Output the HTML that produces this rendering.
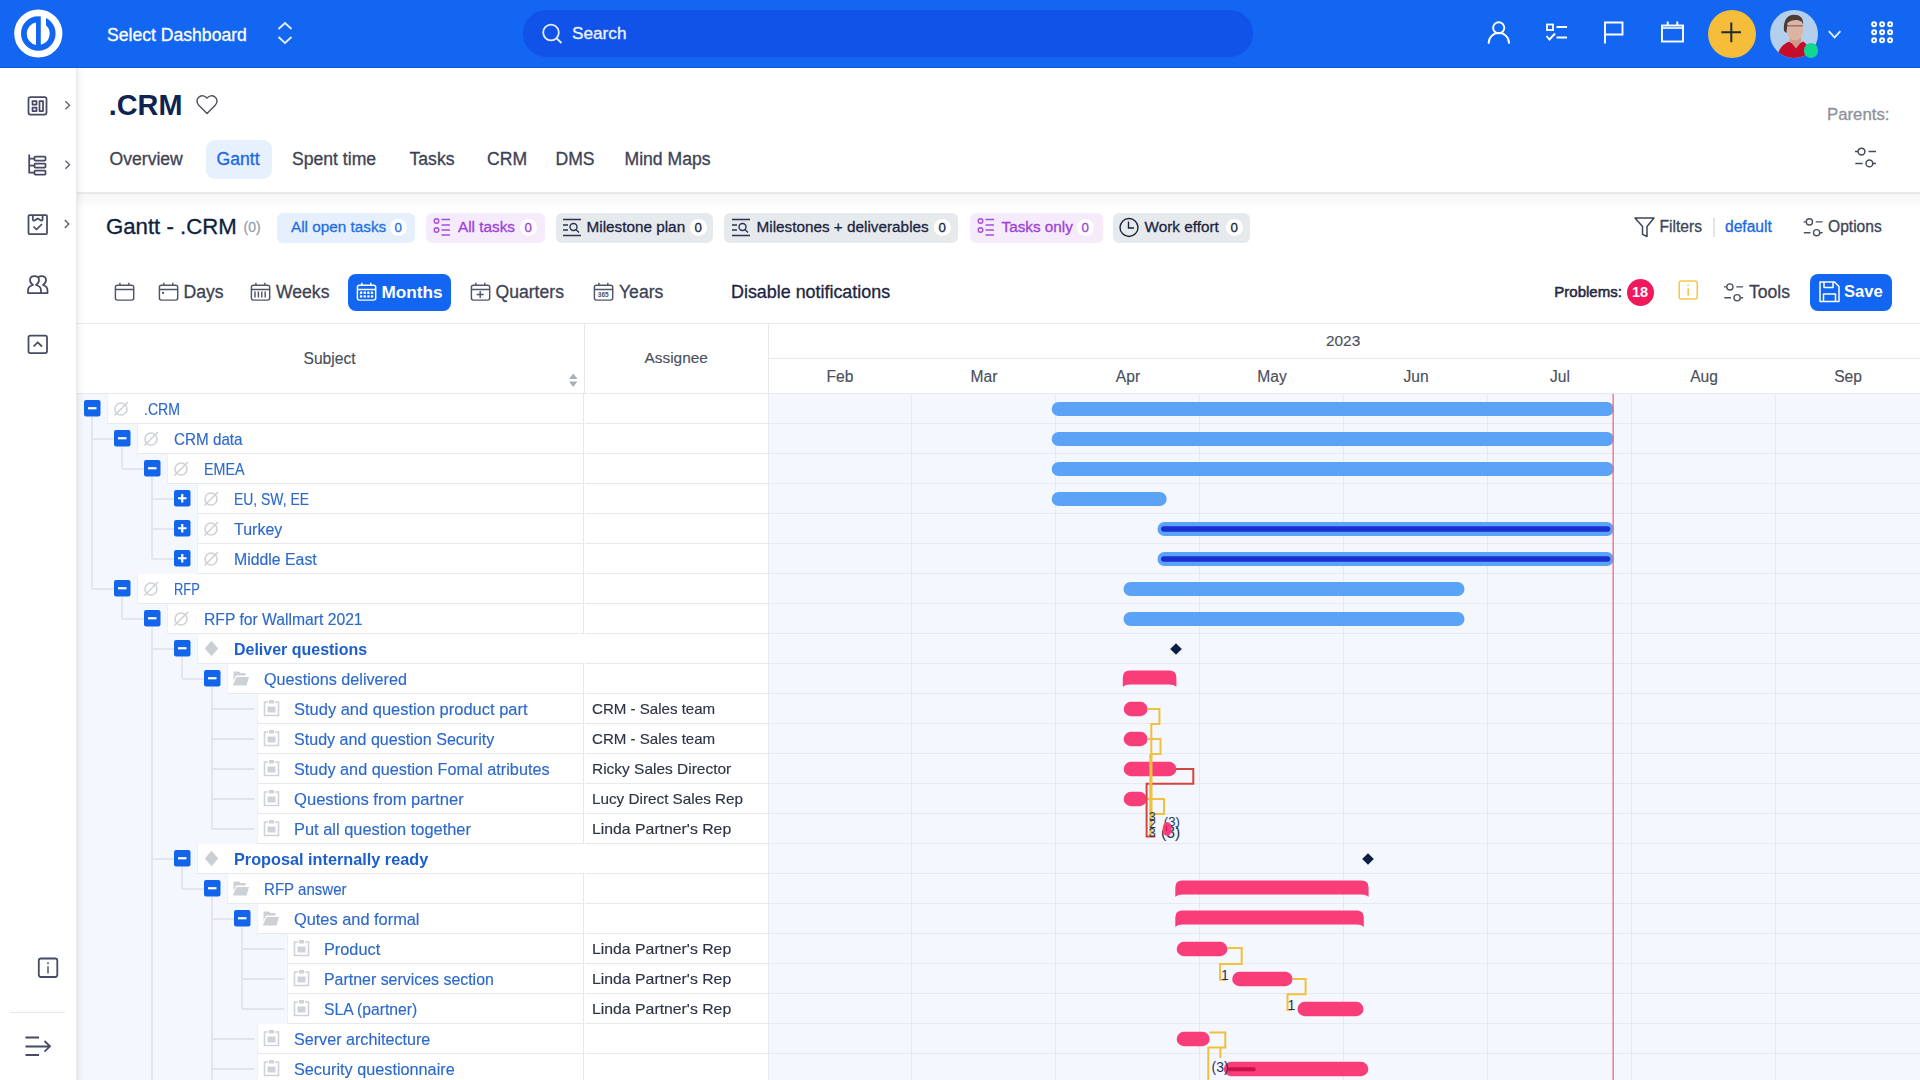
<!DOCTYPE html>
<html><head><meta charset="utf-8"><title>Gantt - .CRM</title><style>
*{box-sizing:border-box;margin:0;padding:0}
html,body{width:1920px;height:1080px;overflow:hidden;background:#fff;font-family:"Liberation Sans",sans-serif;position:relative}
.a{position:absolute}
.t{position:absolute;white-space:nowrap;line-height:1}
.m{-webkit-text-stroke:0.3px currentColor}
.n{-webkit-text-stroke:0.15px currentColor}
svg{position:absolute;overflow:visible}
</style></head><body>
<div class="a" style="left:0;top:0;width:1920px;height:68px;background:#1266f1;border-bottom:1px solid #0f58dc"></div>
<svg style="left:0;top:0" width="80" height="68" viewBox="0 0 80 68">
<circle cx="38.3" cy="33.5" r="20.7" fill="none" stroke="#fff" stroke-width="6.8"/>
<path d="M36,22.5 A11.4,11.4 0 0 0 36,44.9 Z" fill="#fff"/>
<path d="M40.8,16 L46,16.8 L46,25.3 A11.4,11.4 0 0 1 40.8,44.8 Z" fill="#fff"/>
</svg>
<div class="t m" style="left:107px;top:26.5px;font-size:17.6px;color:#fff">Select Dashboard</div>
<svg style="left:276px;top:21px" width="18" height="24" viewBox="0 0 18 24">
<path d="M2.5,8 L9,2 L15.5,8 M2.5,16 L9,22 L15.5,16" fill="none" stroke="#e8f0ff" stroke-width="1.8"/></svg>
<div class="a" style="left:523px;top:10px;width:730px;height:47px;border-radius:24px;background:#1152e9"></div>
<svg style="left:541px;top:22px" width="24" height="24" viewBox="0 0 24 24">
<circle cx="10" cy="10.5" r="7.8" fill="none" stroke="#e6efff" stroke-width="1.8"/><path d="M15.8,16.5 L20.5,21" stroke="#e6efff" stroke-width="1.8"/></svg>
<div class="t m" style="left:572px;top:25px;font-size:17.2px;color:#eef4ff">Search</div>
<svg style="left:1480px;top:15px" width="40" height="40" viewBox="1480 15 40 40">
<circle cx="1498.7" cy="27.8" r="5.6" fill="none" stroke="#fff" stroke-width="1.9"/>
<path d="M1488.7,43 A10,10 0 0 1 1509,43" fill="none" stroke="#fff" stroke-width="1.9" stroke-linecap="round"/></svg>
<svg style="left:1540px;top:15px" width="40" height="40" viewBox="1540 15 40 40">
<rect x="1547" y="24.5" width="6" height="5.5" fill="none" stroke="#fff" stroke-width="1.8"/>
<path d="M1556.5,27 H1567 M1556.5,37.5 H1567" stroke="#fff" stroke-width="1.9"/>
<path d="M1546.5,36 L1549.5,39.5 L1555,33.5" fill="none" stroke="#fff" stroke-width="1.9"/></svg>
<svg style="left:1595px;top:15px" width="40" height="40" viewBox="1595 15 40 40">
<path d="M1605,43.5 V22.5 H1622.5 V34.5 H1605" fill="none" stroke="#fff" stroke-width="1.9"/></svg>
<svg style="left:1655px;top:15px" width="40" height="40" viewBox="1655 15 40 40">
<rect x="1662" y="25.5" width="21" height="16" fill="none" stroke="#fff" stroke-width="1.9"/>
<path d="M1662,28 H1683" stroke="#fff" stroke-width="1.6"/>
<path d="M1667.7,21.5 V25.5 M1677.3,21.5 V25.5" stroke="#fff" stroke-width="1.9"/></svg>
<div class="a" style="left:1707.7px;top:9.5px;width:48px;height:48px;border-radius:50%;background:#f5bd3a"></div>
<svg style="left:1715px;top:17px" width="34" height="34" viewBox="1715 17 34 34">
<path d="M1731.3,22.5 V42.2 M1721.3,32.3 H1741" stroke="#1f2b37" stroke-width="2"/></svg>
<svg style="left:1770px;top:9.5px" width="48" height="48" viewBox="0 0 48 48">
<defs><clipPath id="av"><circle cx="24" cy="24" r="24"/></clipPath><filter id="bl" x="-10%" y="-10%" width="120%" height="120%"><feGaussianBlur stdDeviation="0.7"/></filter></defs>
<g clip-path="url(#av)">
<rect width="48" height="48" fill="#b4cfec"/>
<g filter="url(#bl)">
<path d="M7,48 C8.5,38 13.5,33.5 20,31.5 L26,35.5 L33,31.5 C36.5,33 39,37 40.5,48 Z" fill="#c4112b"/>
<path d="M20.5,31.5 L26,38.5 L31.5,31.5 Z" fill="#d4968a"/>
<rect x="20" y="25" width="11" height="8" fill="#cf9a8a"/>
<ellipse cx="25" cy="19.5" rx="8.3" ry="10.8" fill="#ddb3a3"/>
<path d="M14,21 C13,10 17.5,4.8 24,4.8 C30,4.8 33.5,8 33.2,14.5 L31.5,11.5 C28,9 21,9.5 17.5,13 L16.5,23 Z" fill="#4b3a33"/>
<path d="M16.8,15.8 H33" stroke="#6a5652" stroke-width="1.3" opacity="0.75"/>
</g></g></svg>
<div class="a" style="left:1803.5px;top:43px;width:14.5px;height:14.5px;border-radius:50%;background:#10d88f"></div>
<svg style="left:1825px;top:25px" width="20" height="20" viewBox="1825 25 20 20">
<path d="M1828.8,31.2 L1834.6,37.4 L1840.4,31.2" fill="none" stroke="#e8f0ff" stroke-width="1.8"/></svg>
<svg style="left:1860px;top:15px" width="40" height="40" viewBox="1860 15 40 40"><circle cx="1874.1" cy="24.3" r="2.0" fill="none" stroke="#fff" stroke-width="1.9"/><circle cx="1882.1" cy="24.3" r="2.0" fill="none" stroke="#fff" stroke-width="1.9"/><circle cx="1890.1" cy="24.3" r="2.0" fill="none" stroke="#fff" stroke-width="1.9"/><circle cx="1874.1" cy="32.3" r="2.0" fill="none" stroke="#fff" stroke-width="1.9"/><circle cx="1882.1" cy="32.3" r="2.0" fill="none" stroke="#fff" stroke-width="1.9"/><circle cx="1890.1" cy="32.3" r="2.0" fill="none" stroke="#fff" stroke-width="1.9"/><circle cx="1874.1" cy="40.3" r="2.0" fill="none" stroke="#fff" stroke-width="1.9"/><circle cx="1882.1" cy="40.3" r="2.0" fill="none" stroke="#fff" stroke-width="1.9"/><circle cx="1890.1" cy="40.3" r="2.0" fill="none" stroke="#fff" stroke-width="1.9"/></svg>
<div class="a" style="left:0;top:68px;width:76px;height:1012px;background:#fff"></div>
<svg style="left:0;top:68px" width="77" height="1012" viewBox="0 68 77 1012">
<g fill="none" stroke="#454b62" stroke-width="1.75" stroke-linejoin="round">
<rect x="28.5" y="97" width="18" height="17.5" rx="2"/>
<rect x="32.5" y="101" width="4" height="3.5"/><rect x="32.5" y="107.5" width="4" height="3.5"/><rect x="39.5" y="101" width="3.5" height="10"/>
<path d="M29.2,154.5 V173.5 M29.2,158.5 H34 M29.2,165.5 H34 M29.2,172.5 H34"/>
<rect x="34.5" y="156.5" width="11" height="4" rx="0.8"/><rect x="34.5" y="163.5" width="11" height="4" rx="0.8"/><rect x="34.5" y="170.5" width="11" height="4" rx="0.8"/>
<rect x="28.5" y="215" width="18.5" height="19" rx="1"/>
<path d="M32.8,215 V219.5 Q33,221 34.5,220.5 L37.7,218.5 L41,220.5 Q42.5,221 42.6,219.5 V215"/>
<path d="M33.5,226.5 L36.5,229.5 L42,224"/>
<path d="M28,293 V290.5 C28,287 31,285.5 33,285 C30.5,283.5 30,281.5 30,280 C30,277.5 32,276 34.5,276 C37,276 39,277.5 39,280 C39,281.5 38.5,283.5 36,285 C38,285.5 41,287 41,290.5 V293 Z"/>
<path d="M38.5,277 C39.5,276.3 40.5,276 41.5,276 C44,276 46,277.5 46,280 C46,281.5 45.5,283.5 43,285 C45,285.5 47.5,287 47.5,290.5 V293 H41"/>
<rect x="28.5" y="335.5" width="18.5" height="17.5" rx="1.8"/>
<path d="M33.5,346.5 L37.7,342.3 L42,346.5"/>
</g>
<g fill="none" stroke="#5b6075" stroke-width="1.4">
<path d="M65.5,101.2 L69.5,105.2 L65.5,109.2 M65.5,160.8 L69.5,164.8 L65.5,168.8 M64.8,220 L68.8,224 L64.8,228"/>
</g>
<g fill="none" stroke="#454b62" stroke-width="1.8">
<rect x="38.8" y="958.5" width="18.5" height="18.5" rx="2.2"/>
<path d="M48,962.3 V964.2 M48,966.2 V973.6" stroke="#5f6577" stroke-width="1.6"/>
<path d="M25.5,1037.5 H39 M25.5,1055 H39 M25.5,1046.5 H49.5 M44.5,1041 L50,1046.3 L44.5,1051.6"/>
</g>
<path d="M10,1012.5 H65" stroke="#e7e9ec" stroke-width="1"/>
</svg>
<div class="a" style="left:77px;top:68px;width:1843px;height:124px;background:#fff"></div>
<div class="a" style="left:77px;top:192px;width:1843px;height:2px;background:#e9eaec"></div>
<div class="a" style="left:77px;top:194px;width:1843px;height:16px;background:linear-gradient(#f6f6f7,#fff)"></div>
<div class="t" style="left:108.8px;top:91px;font-size:28.8px;font-weight:700;color:#0e2350">.CRM</div>
<svg style="left:193px;top:90px" width="30" height="30" viewBox="193 90 30 30">
<path d="M207,113.5 L198.8,105.3 C196.2,102.7 196.4,98.8 199.2,96.8 C201.7,95 205.2,95.6 207,98.2 C208.8,95.6 212.3,95 214.8,96.8 C217.6,98.8 217.8,102.7 215.2,105.3 Z" fill="none" stroke="#4f5460" stroke-width="1.45" stroke-linejoin="round"/></svg>
<div class="t m" style="left:1827px;top:107px;font-size:16.8px;color:#8c929c">Parents:</div>
<svg style="left:0;top:0" width="1920" height="400" viewBox="0 0 1920 400"><g fill="none" stroke="#454b58" stroke-width="1.5"><circle cx="1861.49" cy="151.54" r="3.41"/><circle cx="1869.4" cy="163.41" r="3.41"/><path d="M1855.0,151.54 H1858.08 M1868.52,151.54 H1876.0 M1855.33,163.41 H1862.7 M1872.81,163.41 H1876.0"/></g></svg>
<div class="a" style="left:205.5px;top:140px;width:66px;height:39px;border-radius:9px;background:#e7f0fd"></div>
<div class="t m" style="left:109.5px;top:151px;font-size:17.6px;color:#3d4253">Overview</div>
<div class="t m" style="left:216.5px;top:151px;font-size:17.6px;color:#1a67e6">Gantt</div>
<div class="t m" style="left:292px;top:151px;font-size:17.6px;color:#3d4253">Spent time</div>
<div class="t m" style="left:409.5px;top:151px;font-size:17.6px;color:#3d4253">Tasks</div>
<div class="t m" style="left:487px;top:151px;font-size:17.6px;color:#3d4253">CRM</div>
<div class="t m" style="left:555.5px;top:151px;font-size:17.6px;color:#3d4253">DMS</div>
<div class="t m" style="left:624.5px;top:151px;font-size:17.6px;color:#3d4253">Mind Maps</div>
<div class="t m" style="left:106px;top:216px;font-size:22.2px;color:#0e1e3d">Gantt - .CRM</div>
<div class="t m" style="left:243.5px;top:220px;font-size:14px;color:#999ea8">(0)</div>
<div class="a" style="left:277px;top:213px;width:138px;height:29.5px;border-radius:6px;background:#e6f0fc"></div>
<div class="t m" style="left:291px;top:218.9px;font-size:15.3px;color:#1f6fe0">All open tasks</div>
<div class="a" style="left:390px;top:219px;width:17px;height:17px;border-radius:50%;background:#fff"></div>
<div class="t m" style="left:394.6px;top:221.3px;font-size:13.3px;color:#1f6fe0">0</div>
<div class="a" style="left:425.5px;top:213px;width:119.5px;height:29.5px;border-radius:6px;background:#f5ebfb"></div>
<svg style="left:433px;top:215px" width="22" height="24" viewBox="0 0 22 24">
<g fill="none" stroke="#a64ddc" stroke-width="1.4"><circle cx="3.5" cy="6" r="2.3"/><circle cx="3.5" cy="15" r="2.3"/>
<path d="M8.5,4.5 H17 M8.5,10 H17 M8.5,15 H17 M8.5,20 H17"/></g></svg>
<div class="t m" style="left:458px;top:218.9px;font-size:15.3px;color:#9d3fd8">All tasks</div>
<div class="a" style="left:520px;top:219px;width:17px;height:17px;border-radius:50%;background:#fff"></div>
<div class="t m" style="left:524.6px;top:221.3px;font-size:13.3px;color:#9d3fd8">0</div>
<div class="a" style="left:556px;top:213px;width:157px;height:29.5px;border-radius:6px;background:#e7eaed"></div>
<svg style="left:561.5px;top:215px" width="22" height="24" viewBox="0 0 22 24">
<g fill="none" stroke="#2a3350" stroke-width="1.4"><path d="M1,4.5 H19 M1,10 H6 M1,15 H6 M1,20.5 H19"/><circle cx="11.5" cy="12" r="3.5"/><path d="M14,14.5 L17,17.5"/></g></svg>
<div class="t m" style="left:586.5px;top:218.9px;font-size:15.3px;color:#1b2540">Milestone plan</div>
<div class="a" style="left:690px;top:219px;width:17px;height:17px;border-radius:50%;background:#fff"></div>
<div class="t m" style="left:694.6px;top:221.3px;font-size:13.3px;color:#1b2540">0</div>
<div class="a" style="left:724px;top:213px;width:234px;height:29.5px;border-radius:6px;background:#e7eaed"></div>
<svg style="left:731px;top:215px" width="22" height="24" viewBox="0 0 22 24">
<g fill="none" stroke="#2a3350" stroke-width="1.4"><path d="M1,4.5 H19 M1,10 H6 M1,15 H6 M1,20.5 H19"/><circle cx="11.5" cy="12" r="3.5"/><path d="M14,14.5 L17,17.5"/></g></svg>
<div class="t m" style="left:756.5px;top:218.9px;font-size:15.3px;color:#1b2540">Milestones + deliverables</div>
<div class="a" style="left:934px;top:219px;width:17px;height:17px;border-radius:50%;background:#fff"></div>
<div class="t m" style="left:938.6px;top:221.3px;font-size:13.3px;color:#1b2540">0</div>
<div class="a" style="left:969.5px;top:213px;width:133.0px;height:29.5px;border-radius:6px;background:#f5ebfb"></div>
<svg style="left:976.5px;top:215px" width="22" height="24" viewBox="0 0 22 24">
<g fill="none" stroke="#a64ddc" stroke-width="1.4"><circle cx="3.5" cy="6" r="2.3"/><circle cx="3.5" cy="15" r="2.3"/>
<path d="M8.5,4.5 H17 M8.5,10 H17 M8.5,15 H17 M8.5,20 H17"/></g></svg>
<div class="t m" style="left:1001.5px;top:218.9px;font-size:15.3px;color:#9d3fd8">Tasks only</div>
<div class="a" style="left:1077px;top:219px;width:17px;height:17px;border-radius:50%;background:#fff"></div>
<div class="t m" style="left:1081.6px;top:221.3px;font-size:13.3px;color:#9d3fd8">0</div>
<div class="a" style="left:1113px;top:213px;width:137px;height:29.5px;border-radius:6px;background:#e7eaed"></div>
<svg style="left:1118px;top:217px" width="22" height="22" viewBox="0 0 22 22">
<g fill="none" stroke="#1b2540" stroke-width="1.4"><circle cx="11" cy="10.5" r="9"/><path d="M10.5,4.5 V11 H16"/></g></svg>
<div class="t m" style="left:1144.5px;top:218.9px;font-size:15.3px;color:#1b2540">Work effort</div>
<div class="a" style="left:1226px;top:219px;width:17px;height:17px;border-radius:50%;background:#fff"></div>
<div class="t m" style="left:1230.6px;top:221.3px;font-size:13.3px;color:#1b2540">0</div>
<svg style="left:1630px;top:213px" width="30" height="30" viewBox="1630 213 30 30">
<path d="M1635,218 H1654 L1647,226.5 V236.5 L1642.5,234.3 V226.5 Z" fill="none" stroke="#3e4457" stroke-width="1.5" stroke-linejoin="round"/></svg>
<div class="t m" style="left:1659.5px;top:219px;font-size:15.6px;color:#3e4457">Filters</div>
<div class="a" style="left:1713px;top:218px;width:1.5px;height:19px;background:#e2e4e8"></div>
<div class="t m" style="left:1725px;top:219px;font-size:15.6px;color:#1a67e6">default</div>
<svg style="left:0;top:0" width="1920" height="400" viewBox="0 0 1920 400"><g fill="none" stroke="#4b515e" stroke-width="1.35"><circle cx="1809.4" cy="221.9" r="3.1"/><circle cx="1816.6" cy="232.7" r="3.1"/><path d="M1803.5,221.9 H1806.3 M1815.8,221.9 H1822.6 M1803.8,232.7 H1810.5 M1819.7,232.7 H1822.6"/></g></svg>
<div class="t m" style="left:1828px;top:219px;font-size:15.6px;color:#3e4457">Options</div>
<svg style="left:114px;top:281px" width="22" height="22" viewBox="0 0 22 22">
<g fill="none" stroke="#50566a" stroke-width="1.45"><rect x="1.4" y="4.3" width="18.3" height="14.8" rx="2"/><path d="M1.4,8.4 H19.7 M5.9,1.8 V4.5 M14.8,1.8 V4.5"/></g></svg>
<svg style="left:158px;top:281px" width="22" height="22" viewBox="0 0 22 22">
<g fill="none" stroke="#50566a" stroke-width="1.45"><rect x="1.4" y="4.3" width="18.3" height="14.8" rx="2"/><path d="M1.4,8.4 H19.7 M5.9,1.8 V4.5 M14.8,1.8 V4.5"/><circle cx="5.1" cy="11.9" r="1.1" fill="#4a5063" stroke="none"/></g></svg>
<div class="t m" style="left:183.5px;top:283.6px;font-size:17.6px;color:#3d4253">Days</div>
<svg style="left:250px;top:281px" width="22" height="22" viewBox="0 0 22 22">
<g fill="none" stroke="#50566a" stroke-width="1.45"><rect x="1.4" y="4.3" width="18.3" height="14.8" rx="2"/><path d="M1.4,8.4 H19.7 M5.9,1.8 V4.5 M14.8,1.8 V4.5"/><path d="M5,10.5 V16.5 M8.4,10.5 V16.5 M11.8,10.5 V16.5 M15.2,10.5 V16.5"/></g></svg>
<div class="t m" style="left:276px;top:283.6px;font-size:17.6px;color:#3d4253">Weeks</div>
<div class="a" style="left:348px;top:274px;width:103px;height:36.5px;border-radius:8px;background:#1266f1"></div>
<svg style="left:356px;top:281px" width="22" height="22" viewBox="0 0 22 22">
<g fill="none" stroke="#fff" stroke-width="1.45"><rect x="1.4" y="4.3" width="18.3" height="14.8" rx="2"/><path d="M1.4,8.4 H19.7 M5.9,1.8 V4.5 M14.8,1.8 V4.5"/></g>
<g fill="#fff"><rect x="3.9" y="10.6" width="2.4" height="2.3" rx="0.4"/><rect x="7.55" y="10.6" width="2.4" height="2.3" rx="0.4"/><rect x="11.2" y="10.6" width="2.4" height="2.3" rx="0.4"/><rect x="14.85" y="10.6" width="2.4" height="2.3" rx="0.4"/><rect x="3.9" y="14.3" width="2.4" height="2.3" rx="0.4"/><rect x="7.55" y="14.3" width="2.4" height="2.3" rx="0.4"/><rect x="11.2" y="14.3" width="2.4" height="2.3" rx="0.4"/><rect x="14.85" y="14.3" width="2.4" height="2.3" rx="0.4"/></g></svg>
<div class="t" style="left:381.5px;top:284px;font-size:17.2px;font-weight:700;color:#fff">Months</div>
<svg style="left:469.5px;top:281px" width="22" height="22" viewBox="0 0 22 22">
<g fill="none" stroke="#50566a" stroke-width="1.45"><rect x="1.4" y="4.3" width="18.3" height="14.8" rx="2"/><path d="M1.4,8.4 H19.7 M5.9,1.8 V4.5 M14.8,1.8 V4.5"/><path d="M10.2,10 V17 M6.7,13.5 H13.7"/></g></svg>
<div class="t m" style="left:495.5px;top:283.6px;font-size:17.6px;color:#3d4253">Quarters</div>
<svg style="left:593px;top:281px" width="22" height="22" viewBox="0 0 22 22">
<g fill="none" stroke="#50566a" stroke-width="1.45"><rect x="1.4" y="4.3" width="18.3" height="14.8" rx="2"/><path d="M1.4,8.4 H19.7 M5.9,1.8 V4.5 M14.8,1.8 V4.5"/><text x="10.2" y="16.3" font-size="6.5" font-weight="700" text-anchor="middle" fill="#4a5063" stroke="none" font-family="Liberation Sans">365</text></g></svg>
<div class="t m" style="left:619px;top:283.6px;font-size:17.6px;color:#3d4253">Years</div>
<div class="t m" style="left:731px;top:284px;font-size:17.9px;color:#1b2540">Disable notifications</div>
<div class="t" style="left:1554.3px;top:284px;font-size:15px;color:#1f2b48;-webkit-text-stroke:0.55px #1f2b48">Problems:</div>
<div class="a" style="left:1627px;top:279px;width:27px;height:27px;border-radius:50%;background:#f0195c"></div>
<div class="t" style="left:1632px;top:285px;font-size:14.5px;font-weight:700;color:#fff">18</div>
<svg style="left:1676px;top:278px" width="24" height="24" viewBox="1676 278 24 24">
<rect x="1679.2" y="281" width="18" height="18" rx="2" fill="none" stroke="#f3c94a" stroke-width="1.5"/>
<path d="M1688.2,284.5 V286 M1688.2,288.3 V295.5" stroke="#f3c94a" stroke-width="1.6"/></svg>
<svg style="left:0;top:0" width="1920" height="400" viewBox="0 0 1920 400"><g fill="none" stroke="#4b515e" stroke-width="1.35"><circle cx="1729.9" cy="286.9" r="3.1"/><circle cx="1737.1" cy="297.7" r="3.1"/><path d="M1724.0,286.9 H1726.8 M1736.3,286.9 H1743.1 M1724.3,297.7 H1731.0 M1740.2,297.7 H1743.1"/></g></svg>
<div class="t m" style="left:1749px;top:284px;font-size:17.6px;color:#3d4253">Tools</div>
<div class="a" style="left:1810px;top:274px;width:82px;height:36.5px;border-radius:8px;background:#1266f1"></div>
<svg style="left:1816px;top:280px" width="26" height="26" viewBox="1816 280 26 26">
<g fill="none" stroke="#fff" stroke-width="1.5" stroke-linejoin="round"><path d="M1820,282 H1834.5 L1839,286.5 V301.5 H1820 Z"/><path d="M1824,282 V287.5 H1833 V282"/><path d="M1823.5,301.5 V294 H1835.5 V301.5"/></g></svg>
<div class="t" style="left:1844px;top:284px;font-size:16.6px;font-weight:700;color:#fff">Save</div>
<div class="a" style="left:77px;top:323px;width:1843px;height:1px;background:#e8ebef"></div>
<div class="a" style="left:583.5px;top:323px;width:1px;height:71px;background:#e6e9ee"></div>
<div class="a" style="left:768px;top:323px;width:1px;height:757px;background:#e6e9ee"></div>
<div class="a" style="left:768px;top:358px;width:1152px;height:1px;background:#e6e9ee"></div>
<div class="t n" style="left:303.5px;top:350.8px;font-size:15.6px;color:#4a4f5c">Subject</div>
<div class="t n" style="left:644.5px;top:349.6px;font-size:15.4px;color:#4a4f5c">Assignee</div>
<svg style="left:565px;top:370px" width="16" height="20" viewBox="565 370 16 20">
<path d="M569,379 L573.2,373.5 L577.4,379 Z M569,381.5 L573.2,387 L577.4,381.5 Z" fill="#a7b0b6"/></svg>
<div class="t n" style="left:1326px;top:333px;font-size:15.4px;color:#4a4f5c">2023</div>
<div class="t n" style="left:800px;width:80px;text-align:center;top:369px;font-size:15.6px;color:#4a4f5c">Feb</div>
<div class="t n" style="left:944px;width:80px;text-align:center;top:369px;font-size:15.6px;color:#4a4f5c">Mar</div>
<div class="t n" style="left:1088px;width:80px;text-align:center;top:369px;font-size:15.6px;color:#4a4f5c">Apr</div>
<div class="t n" style="left:1232px;width:80px;text-align:center;top:369px;font-size:15.6px;color:#4a4f5c">May</div>
<div class="t n" style="left:1376px;width:80px;text-align:center;top:369px;font-size:15.6px;color:#4a4f5c">Jun</div>
<div class="t n" style="left:1520px;width:80px;text-align:center;top:369px;font-size:15.6px;color:#4a4f5c">Jul</div>
<div class="t n" style="left:1664px;width:80px;text-align:center;top:369px;font-size:15.6px;color:#4a4f5c">Aug</div>
<div class="t n" style="left:1808px;width:80px;text-align:center;top:369px;font-size:15.6px;color:#4a4f5c">Sep</div>
<div class="a" style="left:77px;top:394px;width:506.5px;height:686px;background:#f4f7fd"></div>
<div class="a" style="left:769px;top:394px;width:1151px;height:686px;background:#f4f7fd"></div>
<div class="a" style="left:584.5px;top:394px;width:183.5px;height:686px;background:#fff"></div>
<div class="a" style="left:77px;top:393px;width:1843px;height:1.2px;background:#e5e8ed"></div>
<div class="a" style="left:911.0px;top:394px;width:1px;height:686px;background:#e5e9f0"></div>
<div class="a" style="left:1055.0px;top:394px;width:1px;height:686px;background:#e5e9f0"></div>
<div class="a" style="left:1199.0px;top:394px;width:1px;height:686px;background:#e5e9f0"></div>
<div class="a" style="left:1343.0px;top:394px;width:1px;height:686px;background:#e5e9f0"></div>
<div class="a" style="left:1487.0px;top:394px;width:1px;height:686px;background:#e5e9f0"></div>
<div class="a" style="left:1631.0px;top:394px;width:1px;height:686px;background:#e5e9f0"></div>
<div class="a" style="left:1775.0px;top:394px;width:1px;height:686px;background:#e5e9f0"></div>
<div class="a" style="left:769px;top:423.2px;width:1151px;height:1px;background:#e6eaf0"></div>
<div class="a" style="left:584.5px;top:423px;width:183.5px;height:1px;background:#e6e9ee"></div>
<div class="a" style="left:769px;top:453.2px;width:1151px;height:1px;background:#e6eaf0"></div>
<div class="a" style="left:584.5px;top:453px;width:183.5px;height:1px;background:#e6e9ee"></div>
<div class="a" style="left:769px;top:483.2px;width:1151px;height:1px;background:#e6eaf0"></div>
<div class="a" style="left:584.5px;top:483px;width:183.5px;height:1px;background:#e6e9ee"></div>
<div class="a" style="left:769px;top:513.2px;width:1151px;height:1px;background:#e6eaf0"></div>
<div class="a" style="left:584.5px;top:513px;width:183.5px;height:1px;background:#e6e9ee"></div>
<div class="a" style="left:769px;top:543.2px;width:1151px;height:1px;background:#e6eaf0"></div>
<div class="a" style="left:584.5px;top:543px;width:183.5px;height:1px;background:#e6e9ee"></div>
<div class="a" style="left:769px;top:573.2px;width:1151px;height:1px;background:#e6eaf0"></div>
<div class="a" style="left:584.5px;top:573px;width:183.5px;height:1px;background:#e6e9ee"></div>
<div class="a" style="left:769px;top:603.2px;width:1151px;height:1px;background:#e6eaf0"></div>
<div class="a" style="left:584.5px;top:603px;width:183.5px;height:1px;background:#e6e9ee"></div>
<div class="a" style="left:769px;top:633.2px;width:1151px;height:1px;background:#e6eaf0"></div>
<div class="a" style="left:584.5px;top:633px;width:183.5px;height:1px;background:#e6e9ee"></div>
<div class="a" style="left:769px;top:663.2px;width:1151px;height:1px;background:#e6eaf0"></div>
<div class="a" style="left:584.5px;top:663px;width:183.5px;height:1px;background:#e6e9ee"></div>
<div class="a" style="left:769px;top:693.2px;width:1151px;height:1px;background:#e6eaf0"></div>
<div class="a" style="left:584.5px;top:693px;width:183.5px;height:1px;background:#e6e9ee"></div>
<div class="a" style="left:769px;top:723.2px;width:1151px;height:1px;background:#e6eaf0"></div>
<div class="a" style="left:584.5px;top:723px;width:183.5px;height:1px;background:#e6e9ee"></div>
<div class="a" style="left:769px;top:753.2px;width:1151px;height:1px;background:#e6eaf0"></div>
<div class="a" style="left:584.5px;top:753px;width:183.5px;height:1px;background:#e6e9ee"></div>
<div class="a" style="left:769px;top:783.2px;width:1151px;height:1px;background:#e6eaf0"></div>
<div class="a" style="left:584.5px;top:783px;width:183.5px;height:1px;background:#e6e9ee"></div>
<div class="a" style="left:769px;top:813.2px;width:1151px;height:1px;background:#e6eaf0"></div>
<div class="a" style="left:584.5px;top:813px;width:183.5px;height:1px;background:#e6e9ee"></div>
<div class="a" style="left:769px;top:843.2px;width:1151px;height:1px;background:#e6eaf0"></div>
<div class="a" style="left:584.5px;top:843px;width:183.5px;height:1px;background:#e6e9ee"></div>
<div class="a" style="left:769px;top:873.2px;width:1151px;height:1px;background:#e6eaf0"></div>
<div class="a" style="left:584.5px;top:873px;width:183.5px;height:1px;background:#e6e9ee"></div>
<div class="a" style="left:769px;top:903.2px;width:1151px;height:1px;background:#e6eaf0"></div>
<div class="a" style="left:584.5px;top:903px;width:183.5px;height:1px;background:#e6e9ee"></div>
<div class="a" style="left:769px;top:933.2px;width:1151px;height:1px;background:#e6eaf0"></div>
<div class="a" style="left:584.5px;top:933px;width:183.5px;height:1px;background:#e6e9ee"></div>
<div class="a" style="left:769px;top:963.2px;width:1151px;height:1px;background:#e6eaf0"></div>
<div class="a" style="left:584.5px;top:963px;width:183.5px;height:1px;background:#e6e9ee"></div>
<div class="a" style="left:769px;top:993.2px;width:1151px;height:1px;background:#e6eaf0"></div>
<div class="a" style="left:584.5px;top:993px;width:183.5px;height:1px;background:#e6e9ee"></div>
<div class="a" style="left:769px;top:1023.2px;width:1151px;height:1px;background:#e6eaf0"></div>
<div class="a" style="left:584.5px;top:1023px;width:183.5px;height:1px;background:#e6e9ee"></div>
<div class="a" style="left:769px;top:1053.2px;width:1151px;height:1px;background:#e6eaf0"></div>
<div class="a" style="left:584.5px;top:1053px;width:183.5px;height:1px;background:#e6e9ee"></div>
<div class="a" style="left:769px;top:1083.2px;width:1151px;height:1px;background:#e6eaf0"></div>
<div class="a" style="left:584.5px;top:1083px;width:183.5px;height:1px;background:#e6e9ee"></div>
<div class="a" style="left:106.7px;top:394px;width:477.8px;height:30px;background:#fff;border-bottom:1px solid #e6e9ee;border-left:1px solid #eef1f4"></div>
<svg style="left:113.2px;top:400px" width="17" height="17" viewBox="0 0 17 17">
<circle cx="8" cy="9" r="6" fill="none" stroke="#cfd2d6" stroke-width="1.6"/><path d="M1.5,15.5 L15,2" stroke="#cfd2d6" stroke-width="1.6"/></svg>
<div class="t n" style="left:143.7px;top:400.7px;font-size:16.2px;transform:scaleX(0.8721);transform-origin:0 0;font-weight:400;color:#2c69cc">.CRM</div>
<div class="a" style="left:136.7px;top:424px;width:447.8px;height:30px;background:#fff;border-bottom:1px solid #e6e9ee;border-left:1px solid #eef1f4"></div>
<svg style="left:143.2px;top:430px" width="17" height="17" viewBox="0 0 17 17">
<circle cx="8" cy="9" r="6" fill="none" stroke="#cfd2d6" stroke-width="1.6"/><path d="M1.5,15.5 L15,2" stroke="#cfd2d6" stroke-width="1.6"/></svg>
<div class="t n" style="left:173.7px;top:430.7px;font-size:16.2px;transform:scaleX(0.9407);transform-origin:0 0;font-weight:400;color:#2c69cc">CRM data</div>
<div class="a" style="left:166.7px;top:454px;width:417.8px;height:30px;background:#fff;border-bottom:1px solid #e6e9ee;border-left:1px solid #eef1f4"></div>
<svg style="left:173.2px;top:460px" width="17" height="17" viewBox="0 0 17 17">
<circle cx="8" cy="9" r="6" fill="none" stroke="#cfd2d6" stroke-width="1.6"/><path d="M1.5,15.5 L15,2" stroke="#cfd2d6" stroke-width="1.6"/></svg>
<div class="t n" style="left:203.7px;top:460.7px;font-size:16.2px;transform:scaleX(0.8821);transform-origin:0 0;font-weight:400;color:#2c69cc">EMEA</div>
<div class="a" style="left:196.7px;top:484px;width:387.8px;height:30px;background:#fff;border-bottom:1px solid #e6e9ee;border-left:1px solid #eef1f4"></div>
<svg style="left:203.2px;top:490px" width="17" height="17" viewBox="0 0 17 17">
<circle cx="8" cy="9" r="6" fill="none" stroke="#cfd2d6" stroke-width="1.6"/><path d="M1.5,15.5 L15,2" stroke="#cfd2d6" stroke-width="1.6"/></svg>
<div class="t n" style="left:233.7px;top:490.7px;font-size:16.2px;transform:scaleX(0.8589);transform-origin:0 0;font-weight:400;color:#2c69cc">EU, SW, EE</div>
<div class="a" style="left:196.7px;top:514px;width:387.8px;height:30px;background:#fff;border-bottom:1px solid #e6e9ee;border-left:1px solid #eef1f4"></div>
<svg style="left:203.2px;top:520px" width="17" height="17" viewBox="0 0 17 17">
<circle cx="8" cy="9" r="6" fill="none" stroke="#cfd2d6" stroke-width="1.6"/><path d="M1.5,15.5 L15,2" stroke="#cfd2d6" stroke-width="1.6"/></svg>
<div class="t n" style="left:233.7px;top:520.7px;font-size:16.2px;transform:scaleX(0.9876);transform-origin:0 0;font-weight:400;color:#2c69cc">Turkey</div>
<div class="a" style="left:196.7px;top:544px;width:387.8px;height:30px;background:#fff;border-bottom:1px solid #e6e9ee;border-left:1px solid #eef1f4"></div>
<svg style="left:203.2px;top:550px" width="17" height="17" viewBox="0 0 17 17">
<circle cx="8" cy="9" r="6" fill="none" stroke="#cfd2d6" stroke-width="1.6"/><path d="M1.5,15.5 L15,2" stroke="#cfd2d6" stroke-width="1.6"/></svg>
<div class="t n" style="left:233.7px;top:550.7px;font-size:16.2px;transform:scaleX(0.9783);transform-origin:0 0;font-weight:400;color:#2c69cc">Middle East</div>
<div class="a" style="left:136.7px;top:574px;width:447.8px;height:30px;background:#fff;border-bottom:1px solid #e6e9ee;border-left:1px solid #eef1f4"></div>
<svg style="left:143.2px;top:580px" width="17" height="17" viewBox="0 0 17 17">
<circle cx="8" cy="9" r="6" fill="none" stroke="#cfd2d6" stroke-width="1.6"/><path d="M1.5,15.5 L15,2" stroke="#cfd2d6" stroke-width="1.6"/></svg>
<div class="t n" style="left:173.7px;top:580.7px;font-size:16.2px;transform:scaleX(0.7963);transform-origin:0 0;font-weight:400;color:#2c69cc">RFP</div>
<div class="a" style="left:166.7px;top:604px;width:417.8px;height:30px;background:#fff;border-bottom:1px solid #e6e9ee;border-left:1px solid #eef1f4"></div>
<svg style="left:173.2px;top:610px" width="17" height="17" viewBox="0 0 17 17">
<circle cx="8" cy="9" r="6" fill="none" stroke="#cfd2d6" stroke-width="1.6"/><path d="M1.5,15.5 L15,2" stroke="#cfd2d6" stroke-width="1.6"/></svg>
<div class="t n" style="left:203.7px;top:610.7px;font-size:16.2px;transform:scaleX(0.9686);transform-origin:0 0;font-weight:400;color:#2c69cc">RFP for Wallmart 2021</div>
<div class="a" style="left:196.7px;top:634px;width:387.8px;height:30px;background:#fff;border-bottom:1px solid #e6e9ee;border-left:1px solid #eef1f4"></div>
<svg style="left:202.7px;top:639.8px" width="17" height="17" viewBox="0 0 17 17">
<path d="M8.5,0.8 L15.2,8.5 L8.5,16.2 L1.8,8.5 Z" fill="#cbcfd4"/></svg>
<div class="t" style="left:233.7px;top:640.7px;font-size:16.2px;transform:scaleX(0.9871);transform-origin:0 0;font-weight:700;color:#1c5fcc">Deliver questions</div>
<div class="a" style="left:226.7px;top:664px;width:357.8px;height:30px;background:#fff;border-bottom:1px solid #e6e9ee;border-left:1px solid #eef1f4"></div>
<svg style="left:231.2px;top:669px" width="19" height="19" viewBox="0 0 19 19">
<path d="M2.5,2.5 H8 L9.5,4 H14.5 V6.5 H5 L2.5,12 Z" fill="#cdd1d6"/><path d="M5.5,8 H18 L15.5,16.5 H1.7 Z" fill="#cdd1d6"/></svg>
<div class="t n" style="left:263.7px;top:670.7px;font-size:16.2px;transform:scaleX(0.9994);transform-origin:0 0;font-weight:400;color:#2c69cc">Questions delivered</div>
<div class="a" style="left:256.7px;top:694px;width:327.8px;height:30px;background:#fff;border-bottom:1px solid #e6e9ee;border-left:1px solid #eef1f4"></div>
<svg style="left:263.2px;top:699px" width="18" height="18" viewBox="0 0 18 18">
<path d="M5,3 H1.5 V16.5 H15.5 V3 H12" fill="none" stroke="#cfd3d8" stroke-width="1.6"/>
<rect x="6" y="1" width="5" height="3.5" fill="#cfd3d8"/><rect x="4.5" y="7.5" width="8" height="6" fill="#cfd3d8"/></svg>
<div class="t n" style="left:293.7px;top:700.7px;font-size:16.2px;transform:scaleX(1.0176);transform-origin:0 0;font-weight:400;color:#2c69cc">Study and question product part</div>
<div class="t n" style="left:591.8px;top:702px;font-size:14.8px;transform:scaleX(1.0191);transform-origin:0 0;color:#2c3345">CRM - Sales team</div>
<div class="a" style="left:256.7px;top:724px;width:327.8px;height:30px;background:#fff;border-bottom:1px solid #e6e9ee;border-left:1px solid #eef1f4"></div>
<svg style="left:263.2px;top:729px" width="18" height="18" viewBox="0 0 18 18">
<path d="M5,3 H1.5 V16.5 H15.5 V3 H12" fill="none" stroke="#cfd3d8" stroke-width="1.6"/>
<rect x="6" y="1" width="5" height="3.5" fill="#cfd3d8"/><rect x="4.5" y="7.5" width="8" height="6" fill="#cfd3d8"/></svg>
<div class="t n" style="left:293.7px;top:730.7px;font-size:16.2px;transform:scaleX(0.9934);transform-origin:0 0;font-weight:400;color:#2c69cc">Study and question Security</div>
<div class="t n" style="left:591.8px;top:732px;font-size:14.8px;transform:scaleX(1.0191);transform-origin:0 0;color:#2c3345">CRM - Sales team</div>
<div class="a" style="left:256.7px;top:754px;width:327.8px;height:30px;background:#fff;border-bottom:1px solid #e6e9ee;border-left:1px solid #eef1f4"></div>
<svg style="left:263.2px;top:759px" width="18" height="18" viewBox="0 0 18 18">
<path d="M5,3 H1.5 V16.5 H15.5 V3 H12" fill="none" stroke="#cfd3d8" stroke-width="1.6"/>
<rect x="6" y="1" width="5" height="3.5" fill="#cfd3d8"/><rect x="4.5" y="7.5" width="8" height="6" fill="#cfd3d8"/></svg>
<div class="t n" style="left:293.7px;top:760.7px;font-size:16.2px;transform:scaleX(1.0037);transform-origin:0 0;font-weight:400;color:#2c69cc">Study and question Fomal atributes</div>
<div class="t n" style="left:591.8px;top:762px;font-size:14.8px;transform:scaleX(1.0448);transform-origin:0 0;color:#2c3345">Ricky Sales Director</div>
<div class="a" style="left:256.7px;top:784px;width:327.8px;height:30px;background:#fff;border-bottom:1px solid #e6e9ee;border-left:1px solid #eef1f4"></div>
<svg style="left:263.2px;top:789px" width="18" height="18" viewBox="0 0 18 18">
<path d="M5,3 H1.5 V16.5 H15.5 V3 H12" fill="none" stroke="#cfd3d8" stroke-width="1.6"/>
<rect x="6" y="1" width="5" height="3.5" fill="#cfd3d8"/><rect x="4.5" y="7.5" width="8" height="6" fill="#cfd3d8"/></svg>
<div class="t n" style="left:293.7px;top:790.7px;font-size:16.2px;transform:scaleX(1.0249);transform-origin:0 0;font-weight:400;color:#2c69cc">Questions from partner</div>
<div class="t n" style="left:591.8px;top:792px;font-size:14.8px;transform:scaleX(1.032);transform-origin:0 0;color:#2c3345">Lucy Direct Sales Rep</div>
<div class="a" style="left:256.7px;top:814px;width:327.8px;height:30px;background:#fff;border-bottom:1px solid #e6e9ee;border-left:1px solid #eef1f4"></div>
<svg style="left:263.2px;top:819px" width="18" height="18" viewBox="0 0 18 18">
<path d="M5,3 H1.5 V16.5 H15.5 V3 H12" fill="none" stroke="#cfd3d8" stroke-width="1.6"/>
<rect x="6" y="1" width="5" height="3.5" fill="#cfd3d8"/><rect x="4.5" y="7.5" width="8" height="6" fill="#cfd3d8"/></svg>
<div class="t n" style="left:293.7px;top:820.7px;font-size:16.2px;transform:scaleX(1.0136);transform-origin:0 0;font-weight:400;color:#2c69cc">Put all question together</div>
<div class="t n" style="left:591.8px;top:822px;font-size:14.8px;transform:scaleX(1.0679);transform-origin:0 0;color:#2c3345">Linda Partner's Rep</div>
<div class="a" style="left:196.7px;top:844px;width:387.8px;height:30px;background:#fff;border-bottom:1px solid #e6e9ee;border-left:1px solid #eef1f4"></div>
<svg style="left:202.7px;top:849.8px" width="17" height="17" viewBox="0 0 17 17">
<path d="M8.5,0.8 L15.2,8.5 L8.5,16.2 L1.8,8.5 Z" fill="#cbcfd4"/></svg>
<div class="t" style="left:233.7px;top:850.7px;font-size:16.2px;transform:scaleX(1.0043);transform-origin:0 0;font-weight:700;color:#1c5fcc">Proposal internally ready</div>
<div class="a" style="left:226.7px;top:874px;width:357.8px;height:30px;background:#fff;border-bottom:1px solid #e6e9ee;border-left:1px solid #eef1f4"></div>
<svg style="left:231.2px;top:879px" width="19" height="19" viewBox="0 0 19 19">
<path d="M2.5,2.5 H8 L9.5,4 H14.5 V6.5 H5 L2.5,12 Z" fill="#cdd1d6"/><path d="M5.5,8 H18 L15.5,16.5 H1.7 Z" fill="#cdd1d6"/></svg>
<div class="t n" style="left:263.7px;top:880.7px;font-size:16.2px;transform:scaleX(0.931);transform-origin:0 0;font-weight:400;color:#2c69cc">RFP answer</div>
<div class="a" style="left:256.7px;top:904px;width:327.8px;height:30px;background:#fff;border-bottom:1px solid #e6e9ee;border-left:1px solid #eef1f4"></div>
<svg style="left:261.2px;top:909px" width="19" height="19" viewBox="0 0 19 19">
<path d="M2.5,2.5 H8 L9.5,4 H14.5 V6.5 H5 L2.5,12 Z" fill="#cdd1d6"/><path d="M5.5,8 H18 L15.5,16.5 H1.7 Z" fill="#cdd1d6"/></svg>
<div class="t n" style="left:293.7px;top:910.7px;font-size:16.2px;transform:scaleX(1.0108);transform-origin:0 0;font-weight:400;color:#2c69cc">Qutes and formal</div>
<div class="a" style="left:286.7px;top:934px;width:297.8px;height:30px;background:#fff;border-bottom:1px solid #e6e9ee;border-left:1px solid #eef1f4"></div>
<svg style="left:293.2px;top:939px" width="18" height="18" viewBox="0 0 18 18">
<path d="M5,3 H1.5 V16.5 H15.5 V3 H12" fill="none" stroke="#cfd3d8" stroke-width="1.6"/>
<rect x="6" y="1" width="5" height="3.5" fill="#cfd3d8"/><rect x="4.5" y="7.5" width="8" height="6" fill="#cfd3d8"/></svg>
<div class="t n" style="left:323.7px;top:940.7px;font-size:16.2px;transform:scaleX(1.0066);transform-origin:0 0;font-weight:400;color:#2c69cc">Product</div>
<div class="t n" style="left:591.8px;top:942px;font-size:14.8px;transform:scaleX(1.0679);transform-origin:0 0;color:#2c3345">Linda Partner's Rep</div>
<div class="a" style="left:286.7px;top:964px;width:297.8px;height:30px;background:#fff;border-bottom:1px solid #e6e9ee;border-left:1px solid #eef1f4"></div>
<svg style="left:293.2px;top:969px" width="18" height="18" viewBox="0 0 18 18">
<path d="M5,3 H1.5 V16.5 H15.5 V3 H12" fill="none" stroke="#cfd3d8" stroke-width="1.6"/>
<rect x="6" y="1" width="5" height="3.5" fill="#cfd3d8"/><rect x="4.5" y="7.5" width="8" height="6" fill="#cfd3d8"/></svg>
<div class="t n" style="left:323.7px;top:970.7px;font-size:16.2px;transform:scaleX(0.9834);transform-origin:0 0;font-weight:400;color:#2c69cc">Partner services section</div>
<div class="t n" style="left:591.8px;top:972px;font-size:14.8px;transform:scaleX(1.0679);transform-origin:0 0;color:#2c3345">Linda Partner's Rep</div>
<div class="a" style="left:286.7px;top:994px;width:297.8px;height:30px;background:#fff;border-bottom:1px solid #e6e9ee;border-left:1px solid #eef1f4"></div>
<svg style="left:293.2px;top:999px" width="18" height="18" viewBox="0 0 18 18">
<path d="M5,3 H1.5 V16.5 H15.5 V3 H12" fill="none" stroke="#cfd3d8" stroke-width="1.6"/>
<rect x="6" y="1" width="5" height="3.5" fill="#cfd3d8"/><rect x="4.5" y="7.5" width="8" height="6" fill="#cfd3d8"/></svg>
<div class="t n" style="left:323.7px;top:1000.7px;font-size:16.2px;transform:scaleX(0.9684);transform-origin:0 0;font-weight:400;color:#2c69cc">SLA (partner)</div>
<div class="t n" style="left:591.8px;top:1002px;font-size:14.8px;transform:scaleX(1.0679);transform-origin:0 0;color:#2c3345">Linda Partner's Rep</div>
<div class="a" style="left:256.7px;top:1024px;width:327.8px;height:30px;background:#fff;border-bottom:1px solid #e6e9ee;border-left:1px solid #eef1f4"></div>
<svg style="left:263.2px;top:1029px" width="18" height="18" viewBox="0 0 18 18">
<path d="M5,3 H1.5 V16.5 H15.5 V3 H12" fill="none" stroke="#cfd3d8" stroke-width="1.6"/>
<rect x="6" y="1" width="5" height="3.5" fill="#cfd3d8"/><rect x="4.5" y="7.5" width="8" height="6" fill="#cfd3d8"/></svg>
<div class="t n" style="left:293.7px;top:1030.7px;font-size:16.2px;transform:scaleX(0.9967);transform-origin:0 0;font-weight:400;color:#2c69cc">Server architecture</div>
<div class="a" style="left:256.7px;top:1054px;width:327.8px;height:30px;background:#fff;border-bottom:1px solid #e6e9ee;border-left:1px solid #eef1f4"></div>
<svg style="left:263.2px;top:1059px" width="18" height="18" viewBox="0 0 18 18">
<path d="M5,3 H1.5 V16.5 H15.5 V3 H12" fill="none" stroke="#cfd3d8" stroke-width="1.6"/>
<rect x="6" y="1" width="5" height="3.5" fill="#cfd3d8"/><rect x="4.5" y="7.5" width="8" height="6" fill="#cfd3d8"/></svg>
<div class="t n" style="left:293.7px;top:1060.7px;font-size:16.2px;transform:scaleX(1.0032);transform-origin:0 0;font-weight:400;color:#2c69cc">Security questionnaire</div>
<div class="a" style="left:583px;top:394px;width:1.2px;height:30px;background:#e6e9ee"></div>
<div class="a" style="left:583px;top:424px;width:1.2px;height:30px;background:#e6e9ee"></div>
<div class="a" style="left:583px;top:454px;width:1.2px;height:30px;background:#e6e9ee"></div>
<div class="a" style="left:583px;top:484px;width:1.2px;height:30px;background:#e6e9ee"></div>
<div class="a" style="left:583px;top:514px;width:1.2px;height:30px;background:#e6e9ee"></div>
<div class="a" style="left:583px;top:544px;width:1.2px;height:30px;background:#e6e9ee"></div>
<div class="a" style="left:583px;top:574px;width:1.2px;height:30px;background:#e6e9ee"></div>
<div class="a" style="left:583px;top:604px;width:1.2px;height:30px;background:#e6e9ee"></div>
<div class="a" style="left:583px;top:664px;width:1.2px;height:30px;background:#e6e9ee"></div>
<div class="a" style="left:583px;top:694px;width:1.2px;height:30px;background:#e6e9ee"></div>
<div class="a" style="left:583px;top:724px;width:1.2px;height:30px;background:#e6e9ee"></div>
<div class="a" style="left:583px;top:754px;width:1.2px;height:30px;background:#e6e9ee"></div>
<div class="a" style="left:583px;top:784px;width:1.2px;height:30px;background:#e6e9ee"></div>
<div class="a" style="left:583px;top:814px;width:1.2px;height:30px;background:#e6e9ee"></div>
<div class="a" style="left:583px;top:874px;width:1.2px;height:30px;background:#e6e9ee"></div>
<div class="a" style="left:583px;top:904px;width:1.2px;height:30px;background:#e6e9ee"></div>
<div class="a" style="left:583px;top:934px;width:1.2px;height:30px;background:#e6e9ee"></div>
<div class="a" style="left:583px;top:964px;width:1.2px;height:30px;background:#e6e9ee"></div>
<div class="a" style="left:583px;top:994px;width:1.2px;height:30px;background:#e6e9ee"></div>
<div class="a" style="left:583px;top:1024px;width:1.2px;height:30px;background:#e6e9ee"></div>
<div class="a" style="left:583px;top:1054px;width:1.2px;height:30px;background:#e6e9ee"></div>
<svg style="left:0;top:0" width="1920" height="1080" viewBox="0 0 1920 1080"><g stroke="#e1e5eb" stroke-width="1.8" fill="none"><path d="M92,417 V589"/><path d="M122,447 V469"/><path d="M152,477 V559"/><path d="M122,597 V619"/><path d="M152,627 V1080"/><path d="M182,657 V679"/><path d="M212,687 V829"/><path d="M182,867 V889"/><path d="M212,897 V1080"/><path d="M242,927 V1009"/><path d="M92,439 H114"/><path d="M122,469 H144"/><path d="M152,499 H174"/><path d="M152,529 H174"/><path d="M152,559 H174"/><path d="M92,589 H114"/><path d="M122,619 H144"/><path d="M152,649 H174"/><path d="M182,679 H204"/><path d="M212,709 H254.5"/><path d="M212,739 H254.5"/><path d="M212,769 H254.5"/><path d="M212,799 H254.5"/><path d="M212,829 H254.5"/><path d="M152,859 H174"/><path d="M182,889 H204"/><path d="M212,919 H234"/><path d="M242,949 H284.5"/><path d="M242,979 H284.5"/><path d="M242,1009 H284.5"/><path d="M212,1039 H254.5"/><path d="M212,1069 H254.5"/></g></svg>
<svg style="left:83.8px;top:399.9px" width="16.5" height="16.5" viewBox="0 0 16.5 16.5"><rect width="16.5" height="16.5" rx="2.2" fill="#1264ea"/><path d="M4,8.25 H12.5" stroke="#fff" stroke-width="2.2"/></svg>
<svg style="left:113.8px;top:429.9px" width="16.5" height="16.5" viewBox="0 0 16.5 16.5"><rect width="16.5" height="16.5" rx="2.2" fill="#1264ea"/><path d="M4,8.25 H12.5" stroke="#fff" stroke-width="2.2"/></svg>
<svg style="left:143.8px;top:459.9px" width="16.5" height="16.5" viewBox="0 0 16.5 16.5"><rect width="16.5" height="16.5" rx="2.2" fill="#1264ea"/><path d="M4,8.25 H12.5" stroke="#fff" stroke-width="2.2"/></svg>
<svg style="left:173.8px;top:489.9px" width="16.5" height="16.5" viewBox="0 0 16.5 16.5"><rect width="16.5" height="16.5" rx="2.2" fill="#1264ea"/><path d="M4,8.25 H12.5 M8.25,4 V12.5" stroke="#fff" stroke-width="2.2"/></svg>
<svg style="left:173.8px;top:519.9px" width="16.5" height="16.5" viewBox="0 0 16.5 16.5"><rect width="16.5" height="16.5" rx="2.2" fill="#1264ea"/><path d="M4,8.25 H12.5 M8.25,4 V12.5" stroke="#fff" stroke-width="2.2"/></svg>
<svg style="left:173.8px;top:549.9px" width="16.5" height="16.5" viewBox="0 0 16.5 16.5"><rect width="16.5" height="16.5" rx="2.2" fill="#1264ea"/><path d="M4,8.25 H12.5 M8.25,4 V12.5" stroke="#fff" stroke-width="2.2"/></svg>
<svg style="left:113.8px;top:579.9px" width="16.5" height="16.5" viewBox="0 0 16.5 16.5"><rect width="16.5" height="16.5" rx="2.2" fill="#1264ea"/><path d="M4,8.25 H12.5" stroke="#fff" stroke-width="2.2"/></svg>
<svg style="left:143.8px;top:609.9px" width="16.5" height="16.5" viewBox="0 0 16.5 16.5"><rect width="16.5" height="16.5" rx="2.2" fill="#1264ea"/><path d="M4,8.25 H12.5" stroke="#fff" stroke-width="2.2"/></svg>
<svg style="left:173.8px;top:639.9px" width="16.5" height="16.5" viewBox="0 0 16.5 16.5"><rect width="16.5" height="16.5" rx="2.2" fill="#1264ea"/><path d="M4,8.25 H12.5" stroke="#fff" stroke-width="2.2"/></svg>
<svg style="left:203.8px;top:669.9px" width="16.5" height="16.5" viewBox="0 0 16.5 16.5"><rect width="16.5" height="16.5" rx="2.2" fill="#1264ea"/><path d="M4,8.25 H12.5" stroke="#fff" stroke-width="2.2"/></svg>
<svg style="left:173.8px;top:849.9px" width="16.5" height="16.5" viewBox="0 0 16.5 16.5"><rect width="16.5" height="16.5" rx="2.2" fill="#1264ea"/><path d="M4,8.25 H12.5" stroke="#fff" stroke-width="2.2"/></svg>
<svg style="left:203.8px;top:879.9px" width="16.5" height="16.5" viewBox="0 0 16.5 16.5"><rect width="16.5" height="16.5" rx="2.2" fill="#1264ea"/><path d="M4,8.25 H12.5" stroke="#fff" stroke-width="2.2"/></svg>
<svg style="left:233.8px;top:909.9px" width="16.5" height="16.5" viewBox="0 0 16.5 16.5"><rect width="16.5" height="16.5" rx="2.2" fill="#1264ea"/><path d="M4,8.25 H12.5" stroke="#fff" stroke-width="2.2"/></svg>
<svg style="left:0;top:0" width="1920" height="1080" viewBox="0 0 1920 1080"><rect x="1051.7" y="402" width="562.0999999999999" height="14" rx="7" fill="#5ba3f6"/><rect x="1051.7" y="432" width="562.0999999999999" height="14" rx="7" fill="#5ba3f6"/><rect x="1051.7" y="462" width="562.0999999999999" height="14" rx="7" fill="#5ba3f6"/><rect x="1051.7" y="492" width="115.0" height="14" rx="7" fill="#5ba3f6"/><rect x="1157.5" y="522" width="456.29999999999995" height="14" rx="7" fill="#5ba3f6"/><rect x="1161.0" y="526.2" width="449.29999999999995" height="5.6" rx="2.8" fill="#1a2fd2"/><rect x="1157.5" y="552" width="456.29999999999995" height="14" rx="7" fill="#5ba3f6"/><rect x="1161.0" y="556.2" width="449.29999999999995" height="5.6" rx="2.8" fill="#1a2fd2"/><rect x="1123.5" y="582" width="341.0" height="14" rx="7" fill="#5ba3f6"/><rect x="1123.5" y="612" width="341.0" height="14" rx="7" fill="#5ba3f6"/><path d="M1176,643.2 L1181.8,649 L1176,654.8 L1170.2,649 Z" fill="#0b1f45"/><path d="M1122.8,677.5 Q1122.8,670.5 1129.8,670.5 H1169.4 Q1176.4,670.5 1176.4,677.5 V686.8 Q1173.4,684.3 1168.4,684.5 H1130.8 Q1125.8,684.3 1122.8,686.8 Z" fill="#f83d79"/><rect x="1123.7" y="701.8" width="23.899999999999864" height="14.4" rx="7.2" fill="#f83d79"/><rect x="1123.7" y="731.8" width="23.899999999999864" height="14.4" rx="7.2" fill="#f83d79"/><rect x="1123.7" y="761.8" width="52.700000000000045" height="14.4" rx="7.2" fill="#f83d79"/><rect x="1123.7" y="791.8" width="23.09999999999991" height="14.4" rx="7.2" fill="#f83d79"/><path d="M1368,853.2 L1373.8,859 L1368,864.8 L1362.2,859 Z" fill="#0b1f45"/><path d="M1175.3,887.5 Q1175.3,880.5 1182.3,880.5 H1361.6 Q1368.6,880.5 1368.6,887.5 V896.8 Q1365.6,894.3 1360.6,894.5 H1183.3 Q1178.3,894.3 1175.3,896.8 Z" fill="#f83d79"/><path d="M1175.3,917.5 Q1175.3,910.5 1182.3,910.5 H1356.8 Q1363.8,910.5 1363.8,917.5 V926.8 Q1360.8,924.3 1355.8,924.5 H1183.3 Q1178.3,924.3 1175.3,926.8 Z" fill="#f83d79"/><rect x="1176.7" y="941.8" width="50.700000000000045" height="14.4" rx="7.2" fill="#f83d79"/><rect x="1232.2" y="971.8" width="60.399999999999864" height="14.4" rx="7.2" fill="#f83d79"/><rect x="1297.5" y="1001.8" width="66.0" height="14.4" rx="7.2" fill="#f83d79"/><rect x="1176.7" y="1031.8" width="33.0" height="14.4" rx="7.2" fill="#f83d79"/><rect x="1223.9" y="1061.8" width="144.39999999999986" height="14.4" rx="7.2" fill="#f83d79"/><rect x="1228" y="1067.2" width="27.8" height="4" rx="2" fill="#c8124c"/><polyline points="1148,709 1159.4,709 1159.4,724 1151.3,724 1151.3,836" fill="none" stroke="#f0c13c" stroke-width="2"/><polyline points="1148,739 1160.5,739 1160.5,754 1151,754" fill="none" stroke="#f0c13c" stroke-width="2"/><polyline points="1147,799 1164,799 1164,814 1151,814" fill="none" stroke="#f0c13c" stroke-width="2"/><polyline points="1176,769 1193.3,769 1193.3,783.8 1146.6,783.8 1146.6,836.6 1155.4,836.6" fill="none" stroke="#d2463f" stroke-width="2"/><rect x="1149.3" y="754" width="3" height="82" fill="#f0c13c"/><polyline points="1227.4,948 1241.7,948 1241.7,964 1220.1,964 1220.1,979.7 1226,979.7" fill="none" stroke="#f0c13c" stroke-width="2"/><polyline points="1292.6,979 1305.6,979 1305.6,994.2 1287.5,994.2 1287.5,1009.9 1292,1009.9" fill="none" stroke="#f0c13c" stroke-width="2"/><polyline points="1209.3,1032.5 1225.3,1032.5 1225.3,1047.4 1208.3,1047.4 1208.3,1080" fill="none" stroke="#f0c13c" stroke-width="2"/><polyline points="1220.4,1047.4 1220.4,1058" fill="none" stroke="#f0c13c" stroke-width="2"/><text x="1221" y="979.5" font-size="14" font-family="Liberation Sans" fill="#1e3559">1</text><text x="1287.5" y="1010" font-size="14" font-family="Liberation Sans" fill="#1e3559">1</text><text x="1211.5" y="1071.5" font-size="14" font-family="Liberation Sans" fill="#1e3559">(3)</text><text x="1163.8" y="826" font-size="13.2" font-family="Liberation Sans" fill="#1e3559">(3)</text><text x="1161" y="838.2" font-size="15.8" font-family="Liberation Sans" fill="#1e3559">(3)</text><text x="1149" y="820.5" font-size="12" font-family="Liberation Sans" fill="#1e3559">3</text><text x="1149.3" y="827.5" font-size="12" font-family="Liberation Sans" fill="#1e3559">2</text><text x="1148.8" y="836.5" font-size="12.5" font-family="Liberation Sans" fill="#1e3559">3</text><ellipse cx="1167.2" cy="829" rx="4.6" ry="7" fill="#f83d79"/><path d="M1166.5,826 V831" stroke="#c8124c" stroke-width="1"/><rect x="1612.5" y="394" width="1.3" height="686" fill="#f36b70"/></svg>
<div class="a" style="left:76px;top:68px;width:2px;height:1012px;background:rgba(0,0,0,0.075)"></div>
<div class="a" style="left:78px;top:68px;width:7px;height:1012px;background:linear-gradient(90deg,rgba(0,0,0,0.04),rgba(0,0,0,0))"></div>
</body></html>
